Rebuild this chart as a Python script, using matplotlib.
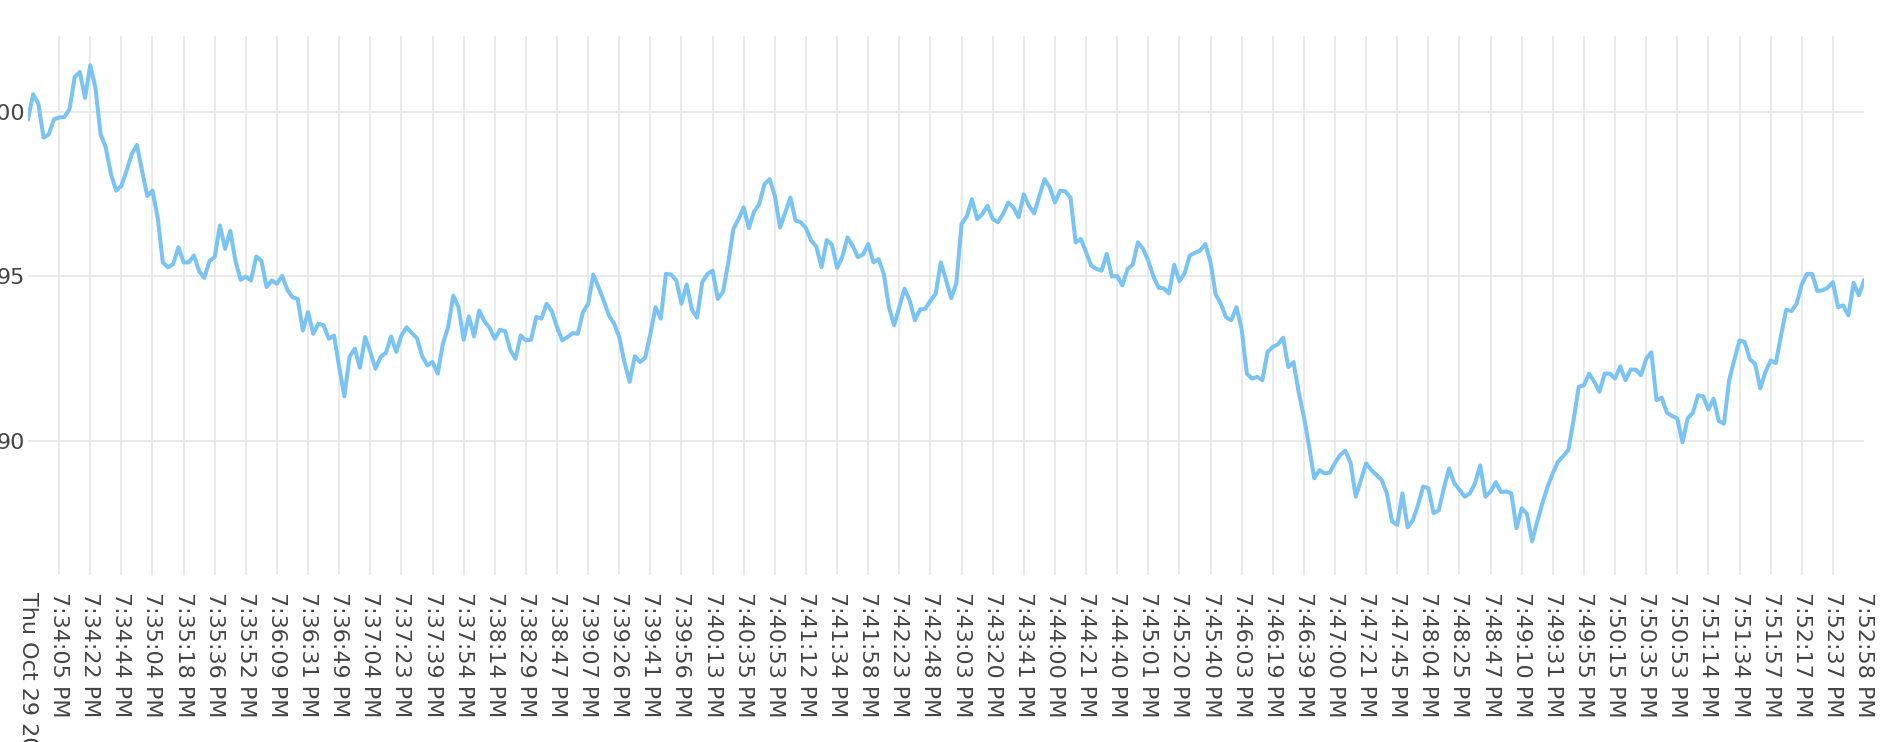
import numpy as np
import matplotlib
matplotlib.use("Agg")
import matplotlib.pyplot as plt

# readings, 6 per tick interval, last one is the final point
values = [
    99.77, 100.53, 100.24, 99.21, 99.31, 99.77,
    99.82, 99.84, 100.07, 101.05, 101.21, 100.42,
    101.41, 100.73, 99.31, 98.91, 98.10, 97.60,
    97.75, 98.20, 98.71, 98.99, 98.20, 97.44,
    97.60, 96.79, 95.42, 95.27, 95.37, 95.88,
    95.42, 95.42, 95.63, 95.15, 94.95, 95.47,
    95.58, 96.54, 95.83, 96.38, 95.47, 94.89,
    94.99, 94.87, 95.60, 95.47, 94.67, 94.87,
    94.77, 95.01, 94.59, 94.36, 94.31, 93.35,
    93.91, 93.25, 93.56, 93.51, 93.10, 93.20,
    92.24, 91.35, 92.55, 92.80, 92.22, 93.15,
    92.70, 92.19, 92.55, 92.67, 93.17, 92.70,
    93.20, 93.45, 93.27, 93.12, 92.57, 92.29,
    92.39, 92.04, 92.95, 93.45, 94.41, 94.06,
    93.07, 93.78, 93.17, 93.96, 93.63, 93.43,
    93.10, 93.37, 93.33, 92.75, 92.49, 93.20,
    93.05, 93.07, 93.76, 93.71, 94.16, 93.94,
    93.45, 93.05, 93.15, 93.27, 93.25, 93.91,
    94.16, 95.05, 94.67, 94.26, 93.81, 93.56,
    93.15, 92.39, 91.79, 92.57, 92.39, 92.52,
    93.25, 94.06, 93.71, 95.07, 95.05, 94.87,
    94.16, 94.75, 93.99, 93.74, 94.82, 95.07,
    95.17, 94.31, 94.52, 95.39, 96.43, 96.74,
    97.09, 96.46, 96.97, 97.19, 97.80, 97.95,
    97.44, 96.48, 96.94, 97.39, 96.69, 96.64,
    96.46, 96.08, 95.90, 95.27, 96.10, 95.96,
    95.25, 95.58, 96.18, 95.93, 95.58, 95.66,
    95.98, 95.42, 95.52, 95.07, 94.06, 93.51,
    94.06, 94.62, 94.26, 93.66, 93.99, 94.01,
    94.26, 94.46, 95.42, 94.89, 94.33, 94.79,
    96.59, 96.82, 97.34, 96.74, 96.89, 97.14,
    96.74, 96.64, 96.89, 97.24, 97.09, 96.79,
    97.49, 97.14, 96.91, 97.44, 97.95, 97.70,
    97.24, 97.60, 97.58, 97.39, 96.03, 96.13,
    95.73, 95.32, 95.22, 95.17, 95.68, 94.99,
    95.01, 94.72, 95.22, 95.35, 96.03, 95.83,
    95.47, 94.99, 94.65, 94.63, 94.48, 95.35,
    94.85, 95.09, 95.63, 95.71, 95.78, 95.98,
    95.42, 94.44, 94.16, 93.75, 93.66, 94.06,
    93.40, 92.04, 91.89, 91.94, 91.84, 92.70,
    92.85, 92.93, 93.13, 92.24, 92.39, 91.48,
    90.73, 89.84, 88.86, 89.11, 89.01, 89.03,
    89.33, 89.57, 89.70, 89.33, 88.30, 88.81,
    89.31, 89.11, 88.96, 88.81, 88.40, 87.55,
    87.44, 88.40, 87.37, 87.58, 88.04, 88.61,
    88.56, 87.80, 87.88, 88.56, 89.16, 88.71,
    88.51, 88.30, 88.40, 88.71, 89.25, 88.30,
    88.46, 88.74, 88.44, 88.46, 88.40, 87.34,
    87.95, 87.78, 86.94, 87.55, 88.10, 88.61,
    89.01, 89.36, 89.53, 89.72, 90.63, 91.64,
    91.69, 92.04, 91.79, 91.49, 92.04, 92.04,
    91.89, 92.26, 91.84, 92.16, 92.16, 91.99,
    92.49, 92.69, 91.23, 91.31, 90.85, 90.75,
    90.68, 89.95, 90.68, 90.85, 91.38, 91.35,
    90.95, 91.28, 90.60, 90.52, 91.84, 92.46,
    93.05, 93.00, 92.47, 92.34, 91.59, 92.09,
    92.44, 92.36, 93.20, 93.98, 93.94, 94.16,
    94.75, 95.07, 95.07, 94.55, 94.57, 94.65,
    94.82, 94.06, 94.11, 93.81, 94.80, 94.42,
    94.87,
]

tick_labels = [
    "Thu Oct 29 2020 19:33:49 GMT",
    "7:34:05 PM", "7:34:22 PM", "7:34:44 PM", "7:35:04 PM", "7:35:18 PM",
    "7:35:36 PM", "7:35:52 PM", "7:36:09 PM", "7:36:31 PM", "7:36:49 PM",
    "7:37:04 PM", "7:37:23 PM", "7:37:39 PM", "7:37:54 PM", "7:38:14 PM",
    "7:38:29 PM", "7:38:47 PM", "7:39:07 PM", "7:39:26 PM", "7:39:41 PM",
    "7:39:56 PM", "7:40:13 PM", "7:40:35 PM", "7:40:53 PM", "7:41:12 PM",
    "7:41:34 PM", "7:41:58 PM", "7:42:23 PM", "7:42:48 PM", "7:43:03 PM",
    "7:43:20 PM", "7:43:41 PM", "7:44:00 PM", "7:44:21 PM", "7:44:40 PM",
    "7:45:01 PM", "7:45:20 PM", "7:45:40 PM", "7:46:03 PM", "7:46:19 PM",
    "7:46:39 PM", "7:47:00 PM", "7:47:21 PM", "7:47:45 PM", "7:48:04 PM",
    "7:48:25 PM", "7:48:47 PM", "7:49:10 PM", "7:49:31 PM", "7:49:55 PM",
    "7:50:15 PM", "7:50:35 PM", "7:50:53 PM", "7:51:14 PM", "7:51:34 PM",
    "7:51:57 PM", "7:52:17 PM", "7:52:37 PM", "7:52:58 PM",
]

y_ticks = [90, 95, 100]

x = np.arange(len(values))
step = (len(values) - 1) // (len(tick_labels) - 1)
tick_pos = x[::step]

fig = plt.figure(figsize=(19, 7.42), dpi=100)
ax = fig.add_axes([28 / 1900, 167 / 742, 1836 / 1900, 539 / 742])

ax.plot(x, values, color="#79c3f5", linewidth=2.9, solid_joinstyle="round")

ax.set_xlim(0, len(values) - 1)
ax.set_ylim(85.92, 102.30)
ax.set_xticks(tick_pos)
ax.set_xticklabels(tick_labels, rotation=-90, ha="center", va="top")
ax.set_yticks(y_ticks)

ax.grid(True, color="#e6e6e6", linewidth=1.2)
ax.set_axisbelow(True)
# no gridline drawn at the two ends
gl = ax.get_xgridlines()
gl[0].set_visible(False)
gl[-1].set_visible(False)

for s in ax.spines.values():
    s.set_visible(False)
ax.tick_params(axis="x", length=0, pad=12, labelsize=16, labelcolor="#444444")
ax.tick_params(axis="y", length=0, pad=2, labelsize=16, labelcolor="#444444")

fig.savefig("out.png", dpi=100)
